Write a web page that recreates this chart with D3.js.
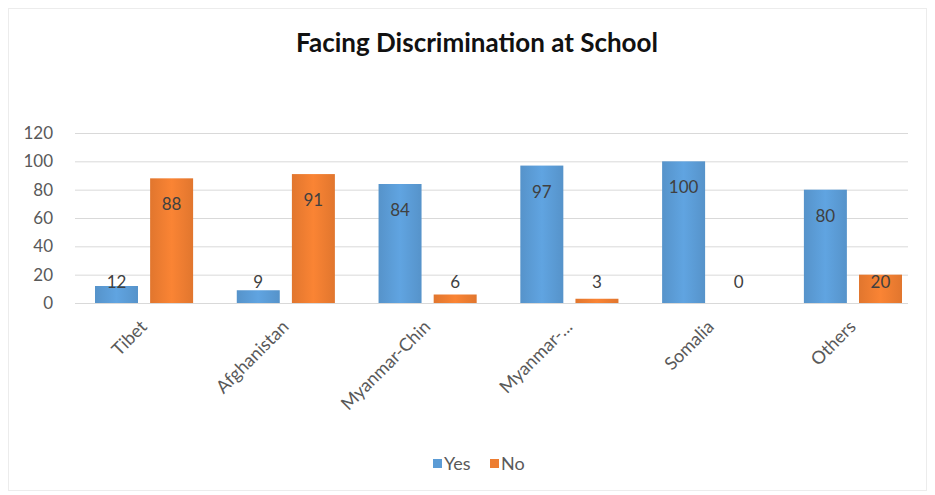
<!DOCTYPE html>
<html>
<head>
<meta charset="utf-8">
<script src="https://cdn.jsdelivr.net/npm/d3@7"></script>
<style>
  body { margin: 0; background: #fff; }
  text { font-family: Lato, "Open Sans", sans-serif; }
</style>
</head>
<body>
<div id="chart"></div>
<script>
var categories = ["Tibet", "Afghanistan", "Myanmar-Chin", "Myanmar-...", "Somalia", "Others"];
var series = ["Yes", "No"];
var yesValues = [12, 9, 84, 97, 100, 80];
var noValues = [88, 91, 6, 3, 0, 20];
var yTicks = [0, 20, 40, 60, 80, 100, 120];
var colors = { Yes: "#5b9bd5", No: "#ed7d31" };

var width = 935,
  height = 495;

var svg = d3.select('#chart')
  .append('svg')
  .attr('width', width)
  .attr('height', height)

// faint frame round the chart
svg.append('rect')
  .attr('x', 8.5).attr('y', 8.5)
  .attr('width', 918).attr('height', 482)
  .attr('fill', 'none')
  .attr('stroke', '#ececec')

var defs = svg.append('defs');
series.forEach(function (s) {
  var g = defs.append('linearGradient')
    .attr('id', 'grad' + s)
    .attr('x1', 0).attr('x2', 1).attr('y1', 0).attr('y2', 0);
  var c = d3.color(colors[s]);
  g.append('stop').attr('offset', '0%').attr('stop-color', c.darker(0.15));
  g.append('stop').attr('offset', '50%').attr('stop-color', c.brighter(0.15));
  g.append('stop').attr('offset', '100%').attr('stop-color', c.darker(0.15));
});

var data = categories.map(function (c, i) {
  return { cat: c, Yes: yesValues[i], No: noValues[i] };
});

var plotLeft = 75, plotRight = 908, plotTop = 133, plotBottom = 303;

var y = d3.scaleLinear().domain([0, 120]).range([plotBottom, plotTop]);

// bars sit a bit right of the grid centre, like the original
var x0 = d3.scaleBand()
  .domain(categories)
  .range([95, 902])
  .paddingInner(0.308)
  .paddingOuter(0);

var x1 = d3.scaleBand()
  .domain(series)
  .range([0, x0.bandwidth()])
  .paddingInner(0.22);

// title
svg.append('text')
  .attr('x', 477)
  .attr('y', 52)
  .attr('text-anchor', 'middle')
  .style('font-size', '26px')
  .style('font-weight', 'bold')
  .attr('fill', '#111')
  .text('Facing Discrimination at School')

// gridlines + y axis
var yAxis = d3.axisLeft(y).tickValues(yTicks).tickSize(-(plotRight - plotLeft)).tickPadding(22);
var ga = svg.append('g')
  .attr('transform', 'translate(' + plotLeft + ',0)')
  .call(yAxis);
ga.select('.domain').remove();
ga.selectAll('.tick line').attr('stroke', '#d9d9d9');
ga.selectAll('.tick text')
  .attr('fill', '#595959')
  .style('font-size', '17px');

// bars
var groups = svg.selectAll('g.cat')
  .data(data)
  .join('g')
  .attr('class', 'cat')
  .attr('transform', d => 'translate(' + x0(d.cat) + ',0)');

groups.selectAll('rect')
  .data(d => series.map(s => ({ key: s, value: d[s] })))
  .join('rect')
  .attr('x', d => x1(d.key))
  .attr('y', d => y(d.value))
  .attr('width', x1.bandwidth())
  .attr('height', d => y(0) - y(d.value))
  .attr('fill', d => 'url(#grad' + d.key + ')');

groups.selectAll('text.lbl')
  .data(d => series.map(s => ({ key: s, value: d[s] })))
  .join('text')
  .attr('class', 'lbl')
  .attr('x', d => x1(d.key) + x1.bandwidth() / 2)
  .attr('y', d => Math.min(y(d.value) + 26, y(0) - 21))
  .attr('dy', '0.35em')
  .attr('text-anchor', 'middle')
  .attr('fill', '#404040')
  .style('font-size', '17px')
  .text(d => d.value);

// x labels, rotated
svg.selectAll('text.xlab')
  .data(categories)
  .join('text')
  .attr('class', 'xlab')
  .attr('text-anchor', 'end')
  .attr('fill', '#595959')
  .style('font-size', '18px')
  .attr('transform', d => 'translate(' + (x0(d) + x0.bandwidth() / 2 + 4) + ',' + 328 + ') rotate(-45)')
  .text(d => d);

// legend
var legend = svg.append('g').attr('transform', 'translate(433,459)');
var legX = [0, 57];
series.forEach(function (s, i) {
  legend.append('rect')
    .attr('x', legX[i]).attr('y', 0)
    .attr('width', 9).attr('height', 9)
    .attr('fill', colors[s]);
  legend.append('text')
    .attr('x', legX[i] + 11).attr('y', 5)
    .attr('dy', '0.35em')
    .attr('fill', '#595959')
    .style('font-size', '18px')
    .text(s);
});
</script>
</body>
</html>
